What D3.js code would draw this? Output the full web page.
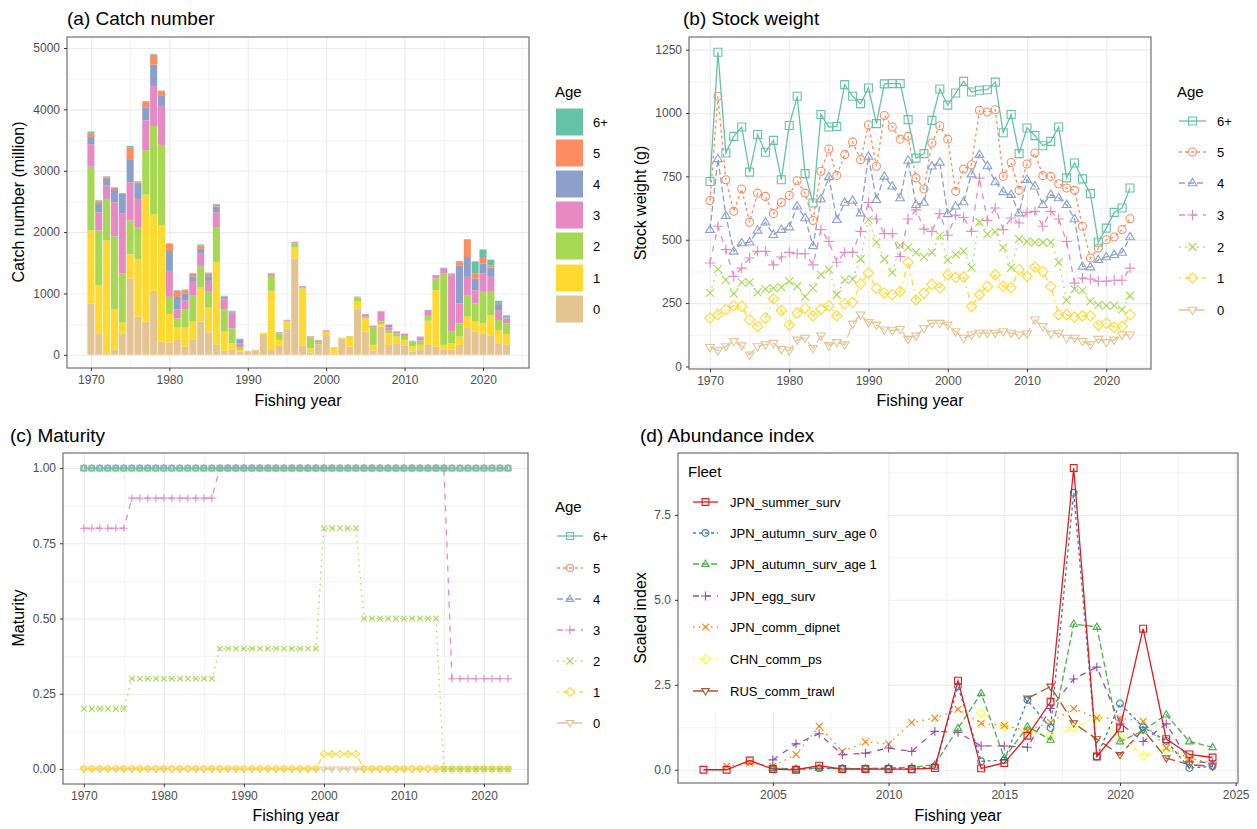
<!DOCTYPE html>
<html><head><meta charset="utf-8">
<script src="https://cdn.jsdelivr.net/npm/d3@7"></script>
<style>body{margin:0;background:#fff} svg{font-family:"Liberation Sans",Arial,Helvetica,sans-serif}</style>
</head><body><svg id="c" width="1257" height="829"></svg>
<script>
// ---------------- DATA ----------------
const years = d3.range(1970, 2024);
const ages = ["6+","5","4","3","2","1","0"];
const ageColors = ["#66C2A5","#FC8D62","#8DA0CB","#E78AC3","#A6D854","#FFD92F","#E5C494"];

// (a) catch number (million), by age, 1970-2023
const catch0  = [838,340,27,81,351,1243,622,540,1043,216,200,254,135,243,540,368,162,65,81,54,60,75,324,92,146,432,1567,146,38,162,324,15,260,135,757,378,70,459,162,189,146,54,81,162,135,81,81,162,449,378,351,308,189,162];
const catch1  = [1189,795,1838,659,173,395,930,2070,1243,1892,465,189,308,297,557,400,1351,313,108,27,3,4,27,951,97,108,189,935,70,5,49,100,10,162,108,216,92,43,189,108,97,81,81,395,919,81,108,135,173,162,162,341,216,178];
const catch2  = [1038,892,676,1189,800,551,530,724,1443,1313,281,151,297,432,346,259,557,362,243,43,2,2,3,243,108,16,65,27,178,38,16,5,5,8,70,27,286,43,43,54,65,81,70,92,189,1162,189,216,351,297,514,378,162,173];
const catch3  = [368,297,216,557,984,622,459,486,649,632,422,146,151,216,205,178,254,162,254,65,0,0,2,38,16,11,16,11,16,32,11,3,3,3,11,38,22,162,54,27,32,11,54,70,43,81,919,324,297,216,297,243,162,81];
const catch4  = [119,135,108,200,313,378,243,216,351,178,324,205,108,92,81,76,92,22,16,65,0,0,0,5,3,3,3,2,0,2,0,0,0,0,3,5,5,5,43,5,5,3,11,11,11,11,16,622,324,189,162,151,97,16];
const catch5  = [54,43,27,32,11,189,27,86,162,65,119,97,54,43,54,43,32,27,11,5,0,0,0,2,0,0,0,0,0,0,0,0,0,0,0,0,0,0,3,0,0,0,0,3,3,3,11,65,281,81,108,38,22,5];
const catch6p = [32,16,16,11,6,27,16,11,11,11,5,11,11,11,16,16,11,11,5,5,0,0,0,0,0,0,0,0,0,0,0,0,0,0,0,0,0,0,0,0,0,0,0,0,0,0,3,5,11,200,124,92,32,27];

// (b) stock weight (g)
const sw6p = [730,1240,842,908,945,767,915,845,892,737,951,1066,761,645,994,945,947,1112,1066,1037,1099,958,1115,1116,1116,974,822,840,971,1095,1031,1079,1125,1083,1090,1092,1122,922,994,840,941,911,871,888,945,744,803,740,682,490,546,608,625,704];
const sw5  = [655,1066,737,612,700,569,684,671,603,647,675,733,684,576,770,858,754,836,886,816,954,790,990,945,897,908,744,700,882,950,897,691,779,796,1011,1004,1013,750,805,695,799,842,753,750,721,704,695,553,428,467,500,511,540,583];
const sw4  = [540,819,595,454,487,490,537,569,520,540,550,632,586,476,661,748,579,647,655,605,829,658,750,711,665,813,638,647,790,805,602,632,649,759,836,791,728,689,678,605,737,711,638,678,665,638,582,395,392,421,432,441,450,511];
const sw3  = [408,553,461,355,388,428,454,454,401,432,450,445,445,401,540,493,411,450,450,533,647,582,524,524,434,582,618,542,533,603,518,597,588,533,743,576,625,540,586,566,608,612,553,612,582,493,329,349,345,336,336,340,340,388];
const sw2  = [290,384,342,287,332,332,292,305,309,313,336,316,276,309,362,382,283,342,345,424,579,490,424,370,478,470,450,432,450,516,421,441,454,390,570,522,531,469,390,503,493,490,490,490,411,261,305,300,257,243,240,240,224,279];
const sw1  = [191,204,224,240,237,184,158,191,266,221,164,211,230,200,226,240,200,247,253,326,368,309,290,283,296,411,263,290,324,311,362,351,353,237,283,316,362,316,311,382,355,392,375,316,204,204,195,200,200,164,171,155,158,204];
const sw0  = [76,63,79,99,82,46,79,86,92,68,63,105,112,72,121,82,95,86,168,204,174,164,145,142,147,108,121,151,171,171,164,138,112,125,132,132,132,138,132,125,129,184,158,129,132,112,112,99,86,108,95,105,125,125];

// (c) maturity
const mat6p = [1,1,1,1,1,1,1,1,1,1,1,1,1,1,1,1,1,1,1,1,1,1,1,1,1,1,1,1,1,1,1,1,1,1,1,1,1,1,1,1,1,1,1,1,1,1,1,1,1,1,1,1,1,1];
const mat5  = [1,1,1,1,1,1,1,1,1,1,1,1,1,1,1,1,1,1,1,1,1,1,1,1,1,1,1,1,1,1,1,1,1,1,1,1,1,1,1,1,1,1,1,1,1,1,1,1,1,1,1,1,1,1];
const mat4  = [1,1,1,1,1,1,1,1,1,1,1,1,1,1,1,1,1,1,1,1,1,1,1,1,1,1,1,1,1,1,1,1,1,1,1,1,1,1,1,1,1,1,1,1,1,1,1,1,1,1,1,1,1,1];
const mat3  = [0.8,0.8,0.8,0.8,0.8,0.8,0.9,0.9,0.9,0.9,0.9,0.9,0.9,0.9,0.9,0.9,0.9,1,1,1,1,1,1,1,1,1,1,1,1,1,1,1,1,1,1,1,1,1,1,1,1,1,1,1,1,1,0.3,0.3,0.3,0.3,0.3,0.3,0.3,0.3];
const mat2  = [0.2,0.2,0.2,0.2,0.2,0.2,0.3,0.3,0.3,0.3,0.3,0.3,0.3,0.3,0.3,0.3,0.3,0.4,0.4,0.4,0.4,0.4,0.4,0.4,0.4,0.4,0.4,0.4,0.4,0.4,0.8,0.8,0.8,0.8,0.8,0.5,0.5,0.5,0.5,0.5,0.5,0.5,0.5,0.5,0.5,0,0,0,0,0,0,0,0,0];
const mat1  = [0,0,0,0,0,0,0,0,0,0,0,0,0,0,0,0,0,0,0,0,0,0,0,0,0,0,0,0,0,0,0.05,0.05,0.05,0.05,0.05,0,0,0,0,0,0,0,0,0,0,0,0,0,0,0,0,0,0,0];
const mat0  = [0,0,0,0,0,0,0,0,0,0,0,0,0,0,0,0,0,0,0,0,0,0,0,0,0,0,0,0,0,0,0,0,0,0,0,0,0,0,0,0,0,0,0,0,0,0,0,0,0,0,0,0,0,0];

// (d) abundance index, 2002-2024
const idxYears = d3.range(2002, 2025);
const fleets = ["JPN_summer_surv","JPN_autumn_surv_age 0","JPN_autumn_surv_age 1","JPN_egg_surv","JPN_comm_dipnet","CHN_comm_ps","RUS_comm_trawl"];
const fleetColors = ["#E41A1C","#377EB8","#4DAF4A","#984EA3","#FF7F00","#FFFF33","#A65628"];
const idxSummer = [0.0,0.0,0.27,0.02,0.0,0.12,0.02,0.02,0.02,0.02,0.05,2.62,0.04,0.2,1.0,2.0,8.88,0.39,1.22,4.15,0.9,0.45,0.36];
const idxAut0   = [null,null,null,0.03,0.01,0.04,0.03,0.03,0.03,0.02,0.1,2.45,0.25,0.28,2.05,1.23,8.15,0.39,1.95,1.25,0.85,0.05,0.1];
const idxAut1   = [null,null,null,0.05,0.02,0.05,0.04,0.03,0.06,0.07,0.15,1.22,2.25,0.35,1.27,0.88,4.29,4.2,0.83,1.15,1.62,0.83,0.66];
const idxEgg    = [null,null,null,0.29,0.76,1.06,0.44,0.49,0.64,0.54,1.13,1.1,0.7,0.7,0.66,1.8,2.67,3.02,1.37,0.83,1.35,0.25,0.2];
const idxDipnet = [null,0.1,0.2,0.1,0.45,1.28,0.54,0.82,0.76,1.39,1.52,1.78,1.37,1.3,1.15,1.4,1.8,1.52,1.52,1.42,0.64,0.34,0.2];
const idxCHN    = [null,null,null,null,null,null,null,null,null,null,null,null,1.67,1.27,1.13,1.0,1.23,1.52,0.98,0.41,0.6,0.34,null];
const idxRUS    = [null,null,null,null,null,null,null,null,null,null,null,null,null,null,2.1,2.45,1.37,0.9,0.44,1.18,0.34,0.15,0.1];

// tick labels
const yearTicks = [1970,1980,1990,2000,2010,2020];
const catchTicks = [0,1000,2000,3000,4000,5000];
const swTicks = [0,250,500,750,1000,1250];
const matTicks = [0,0.25,0.5,0.75,1];
const idxXTicks = [2005,2010,2015,2020,2025];
const idxYTicks = [0,2.5,5,7.5];

// ---------------- STYLE HELPERS ----------------
const svg = d3.select('#c');
const shapes = ["square","circle","triangle","plus","cross","diamond","triangleDown"];
const dashes = [null,"3,3","6,3","6,6","1.5,4.5","1.5,4.5,6,4.5","10.5,4.5"];

function shapePath(s, r) {
  switch (s) {
    case "square": return `M${-r},${-r}h${2*r}v${2*r}h${-2*r}Z`;
    case "circle": return `M${r},0A${r},${r} 0 1,1 ${-r},0A${r},${r} 0 1,1 ${r},0Z`;
    case "triangle": { const a=r*1.15; return `M0,${-a}L${a*0.95},${a*0.6}L${-a*0.95},${a*0.6}Z`; }
    case "triangleDown": { const a=r*1.15; return `M0,${a}L${a*0.95},${-a*0.6}L${-a*0.95},${-a*0.6}Z`; }
    case "plus": { const a=r*1.3; return `M${-a},0H${a}M0,${-a}V${a}`; }
    case "cross": return `M${-r},${-r}L${r},${r}M${-r},${r}L${r},${-r}`;
    case "diamond": { const a=r*1.3; return `M0,${-a}L${a},0L0,${a}L${-a},0Z`; }
  }
}

function makePanel(box, xd, yd, xt, yt, xminor, yminor, yfmt) {
  const x = d3.scaleLinear().domain(xd).range([box.x0, box.x1]);
  const y = d3.scaleLinear().domain(yd).range([box.y1, box.y0]);
  const W = box.x1 - box.x0, H = box.y1 - box.y0;
  const g = svg.append('g');
  g.append('rect').attr('x',box.x0).attr('y',box.y0).attr('width',W).attr('height',H).attr('fill','#fff');
  const gridStyle = (sel, w) => { sel.select('.domain').remove(); sel.selectAll('text').remove();
    sel.selectAll('line').attr('stroke','#EBEBEB').attr('stroke-width',w); };
  g.append('g').attr('transform',`translate(0,${box.y1})`)
    .call(d3.axisBottom(x).tickValues(xminor).tickSize(-H)).call(gridStyle, 0.6);
  g.append('g').attr('transform',`translate(${box.x0},0)`)
    .call(d3.axisLeft(y).tickValues(yminor).tickSize(-W)).call(gridStyle, 0.6);
  g.append('g').attr('transform',`translate(0,${box.y1})`)
    .call(d3.axisBottom(x).tickValues(xt).tickSize(-H)).call(gridStyle, 1.1);
  g.append('g').attr('transform',`translate(${box.x0},0)`)
    .call(d3.axisLeft(y).tickValues(yt).tickSize(-W)).call(gridStyle, 1.1);
  const data = svg.append('g');
  const finish = () => {
    const top = svg.append('g');
    top.append('rect').attr('x',box.x0).attr('y',box.y0).attr('width',W).attr('height',H)
      .attr('fill','none').attr('stroke','#555').attr('stroke-width',1);
    const ax = top.append('g').attr('transform',`translate(0,${box.y1})`)
      .call(d3.axisBottom(x).tickValues(xt).tickSize(3).tickPadding(4).tickFormat(d3.format('d')));
    const ay = top.append('g').attr('transform',`translate(${box.x0},0)`)
      .call(d3.axisLeft(y).tickValues(yt).tickSize(3).tickPadding(4).tickFormat(yfmt));
    [ax, ay].forEach(a => { a.select('.domain').remove();
      a.selectAll('line').attr('stroke','#333');
      a.selectAll('text').attr('fill','#4D4D4D').style('font-size','12px').style('font-family','"Liberation Sans",Arial,sans-serif'); });
    return top;
  };
  return {x, y, g: data, finish};
}

function text(x, y, s, opts={}) {
  const t = svg.append('text').attr('x',x).attr('y',y).text(s)
    .style('font-size',(opts.size||16)+'px').attr('fill',opts.fill||'#000');
  if (opts.anchor) t.attr('text-anchor',opts.anchor);
  if (opts.rotate) t.attr('transform',`rotate(-90,${x},${y})`);
  if (opts.mid) t.attr('dominant-baseline','central');
  return t;
}

// ---------------- (a) CATCH NUMBER ----------------
{
  const box = {x0:67, x1:529, y0:37, y1:368};
  const P = makePanel(box, [1966.95, 2025.87], [-215, 5180], yearTicks, catchTicks,
    [1975,1985,1995,2005,2015,2025], [500,1500,2500,3500,4500], d3.format('d'));
  const series = [catch6p, catch5, catch4, catch3, catch2, catch1, catch0];
  const rows = years.map((yr, i) => { const o = {year: yr}; ages.forEach((a, k) => o[a] = series[k][i]); return o; });
  const keys = ages.slice().reverse(); // 0 at bottom
  const stack = d3.stack().keys(keys)(rows);
  const band = d3.scaleBand().domain(years).range([P.x(1969.5), P.x(2023.5)]).paddingInner(0.1).paddingOuter(0.05);
  const color = d3.scaleOrdinal().domain(ages).range(ageColors);
  P.g.selectAll('g.layer').data(stack).join('g').attr('fill', d => color(d.key))
    .selectAll('rect').data(d => d).join('rect')
    .attr('x', d => band(d.data.year)).attr('width', band.bandwidth())
    .attr('y', d => P.y(d[1])).attr('height', d => Math.max(0, P.y(d[0]) - P.y(d[1])));
  P.finish();
  text(67, 25, '(a) Catch number', {size:19});
  text(298, 406, 'Fishing year', {anchor:'middle'});
  text(24, 202, 'Catch number (million)', {anchor:'middle', rotate:true});
  // legend
  text(555, 91, 'Age', {size:15, mid:true});
  const rowsY = [122,153,184,215,246,278,309];
  ages.forEach((a, k) => {
    svg.append('rect').attr('x',556).attr('y',rowsY[k]-13.5).attr('width',27).attr('height',27).attr('fill',ageColors[k]);
    text(593, rowsY[k], a, {size:13, mid:true});
  });
}

// generic line drawer
function drawSeries(P, xs, vals, color, dash, shape, r) {
  const pts = xs.map((xv, i) => ({x: xv, v: vals[i]}));
  const line = d3.line().defined(d => d.v != null).x(d => P.x(d.x)).y(d => P.y(d.v));
  P.g.append('path').attr('d', line(pts)).attr('fill','none').attr('stroke',color)
    .attr('stroke-width',1.3).attr('stroke-dasharray',dash);
  P.g.append('g').selectAll('path').data(pts.filter(d => d.v != null)).join('path')
    .attr('transform', d => `translate(${P.x(d.x)},${P.y(d.v)})`)
    .attr('d', shapePath(shape, r)).attr('fill','none').attr('stroke',color).attr('stroke-width',1.1);
}
function legendLines(x0, x1, labelX, rowsY, labels, colors, r, size) {
  labels.forEach((a, k) => {
    svg.append('line').attr('x1',x0).attr('x2',x1).attr('y1',rowsY[k]).attr('y2',rowsY[k])
      .attr('stroke',colors[k]).attr('stroke-width',1.3).attr('stroke-dasharray',dashes[k]);
    svg.append('path').attr('transform',`translate(${(x0+x1)/2},${rowsY[k]})`).attr('d',shapePath(shapes[k], r))
      .attr('fill','none').attr('stroke',colors[k]).attr('stroke-width',1.1);
    text(labelX, rowsY[k], a, {size:size, mid:true});
  });
}

// ---------------- (b) STOCK WEIGHT ----------------
{
  const box = {x0:689, x1:1151, y0:37, y1:369};
  const P = makePanel(box, [1967.35, 2025.65], [-10, 1300], yearTicks, swTicks,
    [1975,1985,1995,2005,2015,2025], [125,375,625,875,1125], d3.format('d'));
  const series = [sw6p, sw5, sw4, sw3, sw2, sw1, sw0];
  for (let k = 6; k >= 0; k--) drawSeries(P, years, series[k], ageColors[k], dashes[k], shapes[k], 4);
  P.finish();
  text(683, 25, '(b) Stock weight', {size:19});
  text(920, 406, 'Fishing year', {anchor:'middle'});
  text(646, 203, 'Stock weight (g)', {anchor:'middle', rotate:true});
  text(1177, 91, 'Age', {size:15, mid:true});
  legendLines(1179, 1206, 1217, [121,152,183,215,247,278,310], ages, ageColors, 4, 13);
}

// ---------------- (c) MATURITY ----------------
{
  const box = {x0:63, x1:528, y0:453, y1:784};
  const P = makePanel(box, [1967.4, 2025.5], [-0.05, 1.05], yearTicks, matTicks,
    [1975,1985,1995,2005,2015,2025], [0.125,0.375,0.625,0.875], d3.format('.2f'));
  const series = [mat6p, mat5, mat4, mat3, mat2, mat1, mat0];
  for (let k = 6; k >= 0; k--) drawSeries(P, years, series[k], ageColors[k], dashes[k], shapes[k], 2.8);
  P.finish();
  text(10, 442, '(c) Maturity', {size:19});
  text(296, 821, 'Fishing year', {anchor:'middle'});
  text(24, 618, 'Maturity', {anchor:'middle', rotate:true});
  text(555, 506, 'Age', {size:15, mid:true});
  legendLines(557, 583, 593, [536,568,599,630,661,692,723], ages, ageColors, 3.5, 13);
}

// ---------------- (d) ABUNDANCE INDEX ----------------
{
  const box = {x0:678, x1:1238, y0:453, y1:783};
  const P = makePanel(box, [2000.9, 2025.1], [-0.39, 9.32], idxXTicks, idxYTicks,
    [2002.5,2007.5,2012.5,2017.5,2022.5], [1.25,3.75,6.25,8.75], d3.format('.1f'));
  const series = [idxSummer, idxAut0, idxAut1, idxEgg, idxDipnet, idxCHN, idxRUS];
  for (let k = 6; k >= 0; k--) drawSeries(P, idxYears, series[k], fleetColors[k], dashes[k], shapes[k], 3.4);
  // legend box inside panel
  P.g.append('rect').attr('x',679).attr('y',454).attr('width',208).attr('height',259).attr('fill','#fff');
  P.finish();
  text(640, 442, '(d) Abundance index', {size:19});
  text(958, 821, 'Fishing year', {anchor:'middle'});
  text(646, 618, 'Scaled index', {anchor:'middle', rotate:true});
  text(688, 471, 'Fleet', {size:15, mid:true});
  legendLines(693, 718, 730, [502,533,564,596,627,659,691], fleets, fleetColors, 3.4, 13);
}
</script></body></html>
